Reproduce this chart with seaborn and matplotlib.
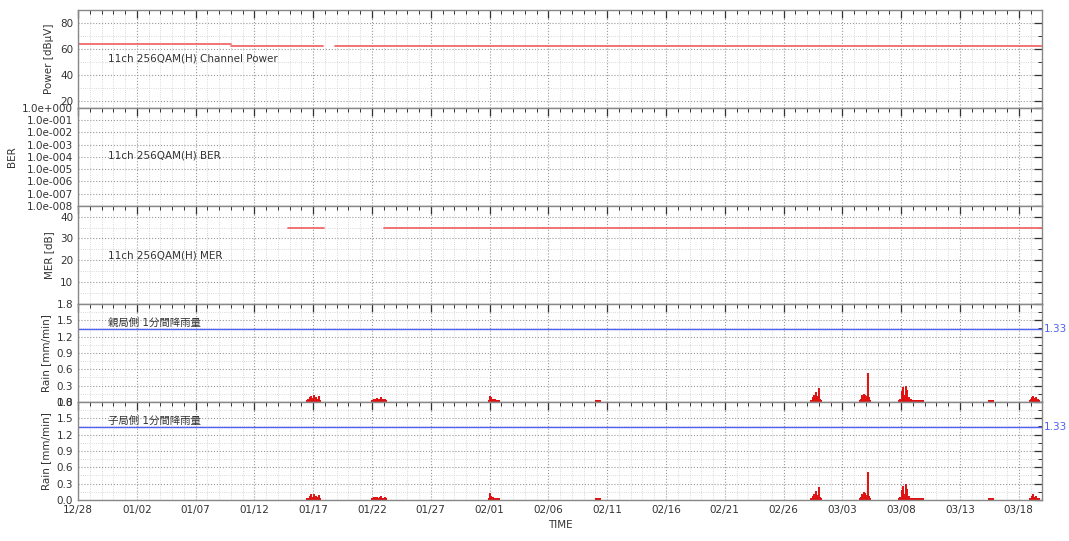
import numpy as np
import pandas as pd
import matplotlib
matplotlib.use('Agg')
import matplotlib.pyplot as plt
import matplotlib.ticker as ticker
import matplotlib.transforms as mtransforms
import seaborn as sns

# ---- data ----
x_start, x_end = '2014-12-28', '2015-03-20'

# channel power segments (start, end, level dBuV)
power_start = ['2014-12-28 00:00', '2015-01-10 00:00', '2015-01-18 20:00']
power_end = ['2015-01-10 00:00', '2015-01-17 20:00', '2015-03-20 00:00']
power_level = [63.5, 62.5, 62.5]

# MER segments (start, end, level dB)
mer_start = ['2015-01-14 20:00', '2015-01-23 00:00']
mer_end = ['2015-01-17 22:00', '2015-03-20 00:00']
mer_level = [35.0, 35.0]

# rain gauge, 1-minute rainfall [mm/min]
rain_time = [
    '2015-01-16 14:00', '2015-01-16 17:00', '2015-01-16 20:00', '2015-01-16 23:00',
    '2015-01-17 02:00', '2015-01-17 05:00', '2015-01-17 08:00', '2015-01-17 11:00',
    '2015-01-22 01:00', '2015-01-22 04:00', '2015-01-22 07:00', '2015-01-22 10:00',
    '2015-01-22 13:00', '2015-01-22 16:00', '2015-01-22 19:00', '2015-01-22 22:00',
    '2015-01-23 02:00',
    '2015-02-01 00:30', '2015-02-01 03:00', '2015-02-01 06:00', '2015-02-01 09:00',
    '2015-02-01 12:00', '2015-02-01 15:00', '2015-02-01 18:00',
    '2015-02-10 04:00', '2015-02-10 07:00',
    '2015-02-28 09:00', '2015-02-28 12:00', '2015-02-28 15:00', '2015-02-28 18:00',
    '2015-02-28 21:00', '2015-03-01 00:00', '2015-03-01 03:00',
    '2015-03-04 14:00', '2015-03-04 17:00', '2015-03-04 20:00', '2015-03-04 23:00',
    '2015-03-05 02:00', '2015-03-05 04:00', '2015-03-05 07:00',
    '2015-03-07 22:00', '2015-03-08 01:00', '2015-03-08 03:00', '2015-03-08 06:00',
    '2015-03-08 09:00', '2015-03-08 12:00', '2015-03-08 15:00', '2015-03-08 20:00',
    '2015-03-09 02:00', '2015-03-09 08:00', '2015-03-09 14:00', '2015-03-09 19:00',
    '2015-03-15 14:00', '2015-03-15 18:00',
    '2015-03-19 00:00', '2015-03-19 03:00', '2015-03-19 06:00', '2015-03-19 09:00',
    '2015-03-19 12:00', '2015-03-19 16:00',
]
rain_parent = [
    0.05, 0.08, 0.10, 0.07, 0.12, 0.09, 0.06, 0.10,
    0.04, 0.06, 0.05, 0.07, 0.05, 0.06, 0.08, 0.05,
    0.06,
    0.10, 0.08, 0.05, 0.04, 0.05, 0.03, 0.04,
    0.03, 0.02,
    0.04, 0.08, 0.12, 0.18, 0.10, 0.25, 0.06,
    0.05, 0.12, 0.15, 0.13, 0.10, 0.53, 0.08,
    0.06, 0.20, 0.28, 0.12, 0.30, 0.22, 0.08, 0.05,
    0.03, 0.02, 0.02, 0.02,
    0.02, 0.03,
    0.05, 0.08, 0.10, 0.07, 0.09, 0.05,
]
rain_child = [
    0.04, 0.07, 0.10, 0.06, 0.11, 0.08, 0.05, 0.09,
    0.03, 0.05, 0.05, 0.06, 0.04, 0.05, 0.07, 0.04,
    0.05,
    0.12, 0.07, 0.05, 0.04, 0.04, 0.03, 0.03,
    0.03, 0.02,
    0.03, 0.07, 0.10, 0.16, 0.09, 0.24, 0.05,
    0.05, 0.11, 0.14, 0.12, 0.09, 0.52, 0.07,
    0.05, 0.18, 0.26, 0.11, 0.29, 0.20, 0.07, 0.04,
    0.03, 0.02, 0.02, 0.02,
    0.02, 0.02,
    0.04, 0.07, 0.11, 0.06, 0.08, 0.04,
]
rain_threshold = 1.33

panel_labels = ['11ch 256QAM(H) Channel Power', '11ch 256QAM(H) BER',
                '11ch 256QAM(H) MER', '親局側 1分間降雨量', '子局側 1分間降雨量']
ber_ticks = [1e0, 1e-1, 1e-2, 1e-3, 1e-4, 1e-5, 1e-6, 1e-7, 1e-8]
ber_labels = ['1.0e+000', '1.0e-001', '1.0e-002', '1.0e-003', '1.0e-004',
              '1.0e-005', '1.0e-006', '1.0e-007', '1.0e-008']

# ---- style ----
sns.set_style('white')
plt.rcParams['font.family'] = ['DejaVu Sans', 'Noto Sans CJK JP']
FS = 7.5
TXT = '#333333'
LINE_RED = '#f06a6a'
RAIN_RED = '#e01010'
BLUE = '#5060f0'

fig, axes = plt.subplots(5, 1, figsize=(10.69, 5.41), dpi=100, sharex=True)
fig.subplots_adjust(left=0.073, right=0.975, top=0.982, bottom=0.076, hspace=0)
ax_pw, ax_ber, ax_mer, ax_r1, ax_r2 = axes

# power
for s, e, v in zip(power_start, power_end, power_level):
    sns.lineplot(x=pd.to_datetime([s, e]), y=[v, v], ax=ax_pw, color=LINE_RED, linewidth=1.3)
ax_pw.set_ylim(15, 90)
ax_pw.set_yticks([20, 40, 60, 80])
ax_pw.yaxis.set_minor_locator(ticker.MultipleLocator(10))
ax_pw.set_ylabel('Power [dBμV]')

# BER (no data in range)
ax_ber.set_yscale('log')
ax_ber.set_ylim(1e-8, 1e0)
ax_ber.set_yticks(ber_ticks)
ax_ber.set_yticklabels(ber_labels)
ax_ber.yaxis.set_minor_locator(ticker.NullLocator())
ax_ber.set_ylabel('BER')

# MER
for s, e, v in zip(mer_start, mer_end, mer_level):
    sns.lineplot(x=pd.to_datetime([s, e]), y=[v, v], ax=ax_mer, color=LINE_RED, linewidth=1.3)
ax_mer.set_ylim(0, 45)
ax_mer.set_yticks([10, 20, 30, 40])
ax_mer.yaxis.set_minor_locator(ticker.MultipleLocator(5))
ax_mer.set_ylabel('MER [dB]')

# rain
rt = pd.to_datetime(rain_time)
for ax, vals in [(ax_r1, rain_parent), (ax_r2, rain_child)]:
    ax.vlines(rt, 0, vals, color=RAIN_RED, linewidth=1.4)
    sns.scatterplot(x=rt, y=[0.0] * len(rt), ax=ax, color=RAIN_RED, marker='s', s=6,
                    linewidth=0)
    ax.axhline(rain_threshold, color=BLUE, linewidth=1.0)
    trans = mtransforms.blended_transform_factory(ax.transAxes, ax.transData)
    ax.text(1.002, rain_threshold, '1.33', transform=trans, color=BLUE, fontsize=FS,
            va='center', ha='left')
    ax.set_ylim(0, 1.8)
    ax.set_yticks(np.round(np.arange(0, 1.81, 0.3), 1))
    ax.yaxis.set_major_formatter(ticker.FormatStrFormatter('%.1f'))
    ax.yaxis.set_minor_locator(ticker.MultipleLocator(0.15))
    ax.set_ylabel('Rain [mm/min]')

# panel titles
label_x = pd.Timestamp('2014-12-30 13:00')
label_y = [53, 1.2e-4, 22, 1.36, 1.36]
label_va = ['center', 'center', 'center', 'bottom', 'bottom']
for ax, lab, y, va in zip(axes, panel_labels, label_y, label_va):
    ax.text(label_x, y, lab, fontsize=FS, color=TXT, va=va, ha='left')

# shared time axis
major = pd.date_range(x_start, '2015-03-18', freq='5D')
minor = pd.date_range(x_start, x_end, freq='D')
for ax in axes:
    ax.set_xlim(pd.Timestamp(x_start), pd.Timestamp(x_end))
    ax.set_xticks(major)
    ax.set_xticks(minor, minor=True)
    ax.grid(True, which='major', color='#999999', linestyle=':', linewidth=0.8)
    ax.grid(True, which='minor', color='#cccccc', linestyle=':', linewidth=0.6)
    ax.tick_params(axis='both', which='major', direction='in', top=True, right=True,
                   length=6, width=0.9, color='#333333', labelsize=FS, labelcolor=TXT)
    ax.tick_params(axis='both', which='minor', direction='in', top=True, right=True,
                   length=3, width=0.7, color='#333333')
    ax.yaxis.label.set_size(FS)
    ax.yaxis.label.set_color(TXT)
    for sp in ax.spines.values():
        sp.set_color('#888888')
        sp.set_linewidth(1.0)

ax_r2.set_xticklabels([d.strftime('%m/%d') for d in major])
ax_r2.set_xlabel('TIME', fontsize=FS, color=TXT)

fig.savefig('out.png', dpi=100)
